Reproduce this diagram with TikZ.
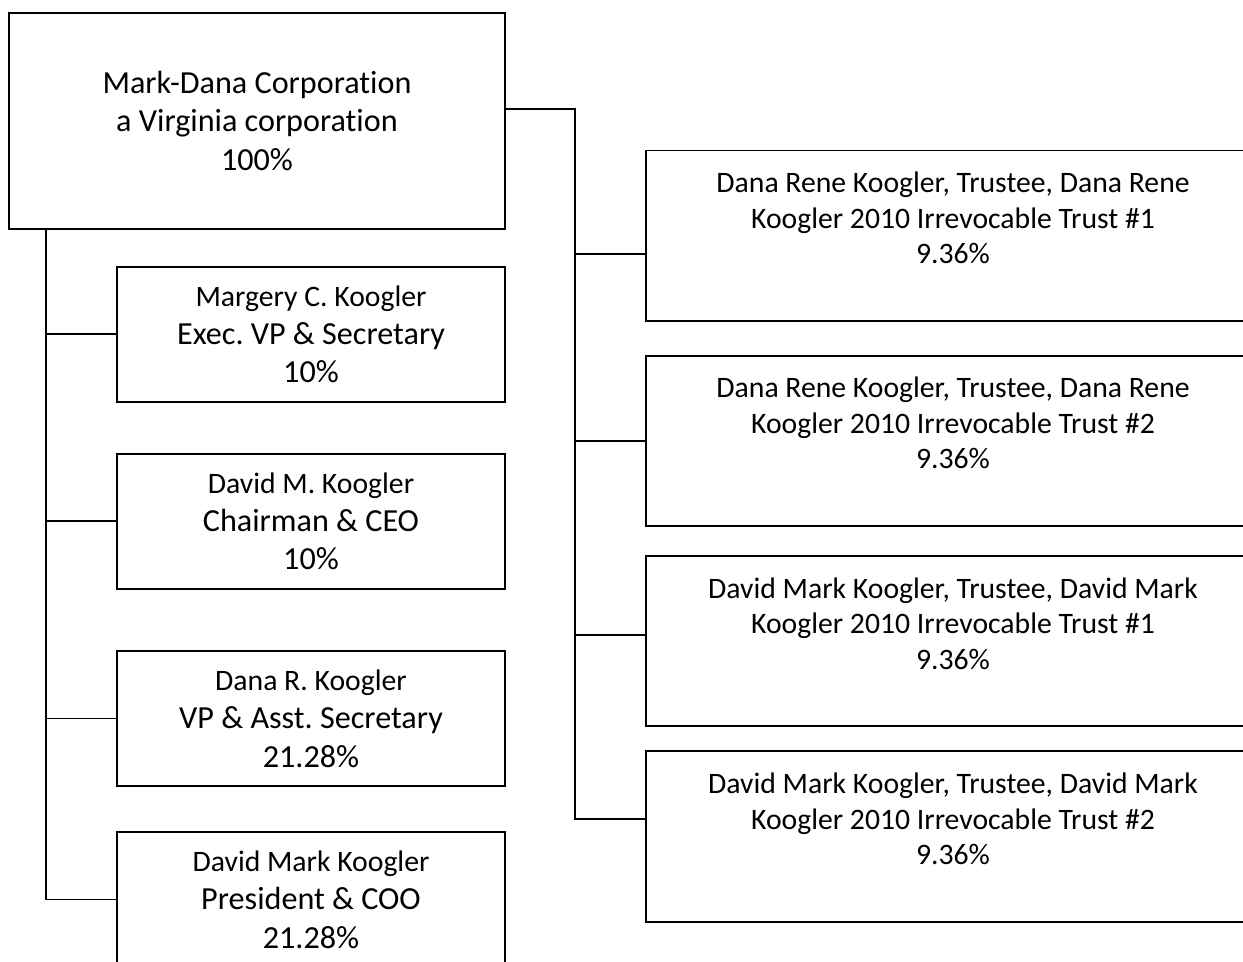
\documentclass[tikz,border=0pt]{standalone}
\usepackage{fontspec}
\setmainfont[Ligatures=NoCommon]{Carlito}
\frenchspacing
\newcommand{\smallfs}{\fontsize{16.9}{20.2}\selectfont}
\newcommand{\largefs}{\fontsize{18.3}{21.9}\selectfont}
\tikzset{
  box/.style = {draw, line width = 1.1pt, align = center, inner sep = 0pt},
  corpbox/.style = {box, font = \largefs, minimum width = 9.92cm, minimum height = 4.33cm},
  officerbox/.style = {box, font = \largefs, minimum width = 7.76cm, minimum height = 2.7cm},
  trustbox/.style = {box, font = \smallfs, minimum width = 12.28cm, minimum height = 3.41cm},
  link/.style = {line width = 1.1pt}
}
\begin{document}
\begin{tikzpicture}[x = .02cm, y = -.02cm]
				\useasboundingbox (0,0) rectangle (1243,961);
				\node[corpbox] (corp) at (257,120.8) {Mark-Dana Corporation\\a Virginia corporation\\100\%}; %parent
				\node[officerbox] (m1) at (311,334.3) {{\smallfs Margery C. Koogler}\\Exec. VP \& Secretary\\10\%};
				\node[officerbox] (m2) at (311,521.3) {{\smallfs David M. Koogler}\\Chairman \& CEO\\10\%};
				\node[officerbox] (m3) at (311,718.5) {{\smallfs Dana R. Koogler}\\VP \& Asst. Secretary\\21.28\%};
				\node[officerbox] (m4) at (311,899.5) {{\smallfs David Mark Koogler}\\President \& COO\\21.28\%};
				\node[trustbox] (t1) at (953,235.7) {Dana Rene Koogler, Trustee, Dana Rene\\Koogler 2010 Irrevocable Trust \#1\\9.36\%\\\mbox{}};
				\node[trustbox] (t2) at (953,440.8) {Dana Rene Koogler, Trustee, Dana Rene\\Koogler 2010 Irrevocable Trust \#2\\9.36\%\\\mbox{}};
				\node[trustbox] (t3) at (953,641.2) {David Mark Koogler, Trustee, David Mark\\Koogler 2010 Irrevocable Trust \#1\\9.36\%\\\mbox{}};
				\node[trustbox] (t4) at (953,836.5) {David Mark Koogler, Trustee, David Mark\\Koogler 2010 Irrevocable Trust \#2\\9.36\%\\\mbox{}};
				\coordinate (lbus) at (46,0); %left bus
				\coordinate (rbus) at (575,0); %right bus
				\coordinate (corp-out) at ([yshift=.23cm]corp.east);
				\coordinate (t1-in) at ([yshift=-.37cm]t1.west);
				\coordinate (t2-in) at (t2.west);
				\coordinate (t3-in) at ([yshift=.12cm]t3.west);
				\coordinate (t4-in) at ([yshift=.35cm]t4.west);
				\draw[link] (corp.south -| lbus) |- (m4.west); %officers
				\foreach \m in {m1,m2,m3} \draw[link] (lbus |- \m.west) -- (\m.west);
				\draw[link] (corp-out) -| (rbus |- t4-in) -- (t4-in); %trusts
				\foreach \t in {t1,t2,t3} \draw[link] (rbus |- \t-in) -- (\t-in);
			\end{tikzpicture}
\end{document}
